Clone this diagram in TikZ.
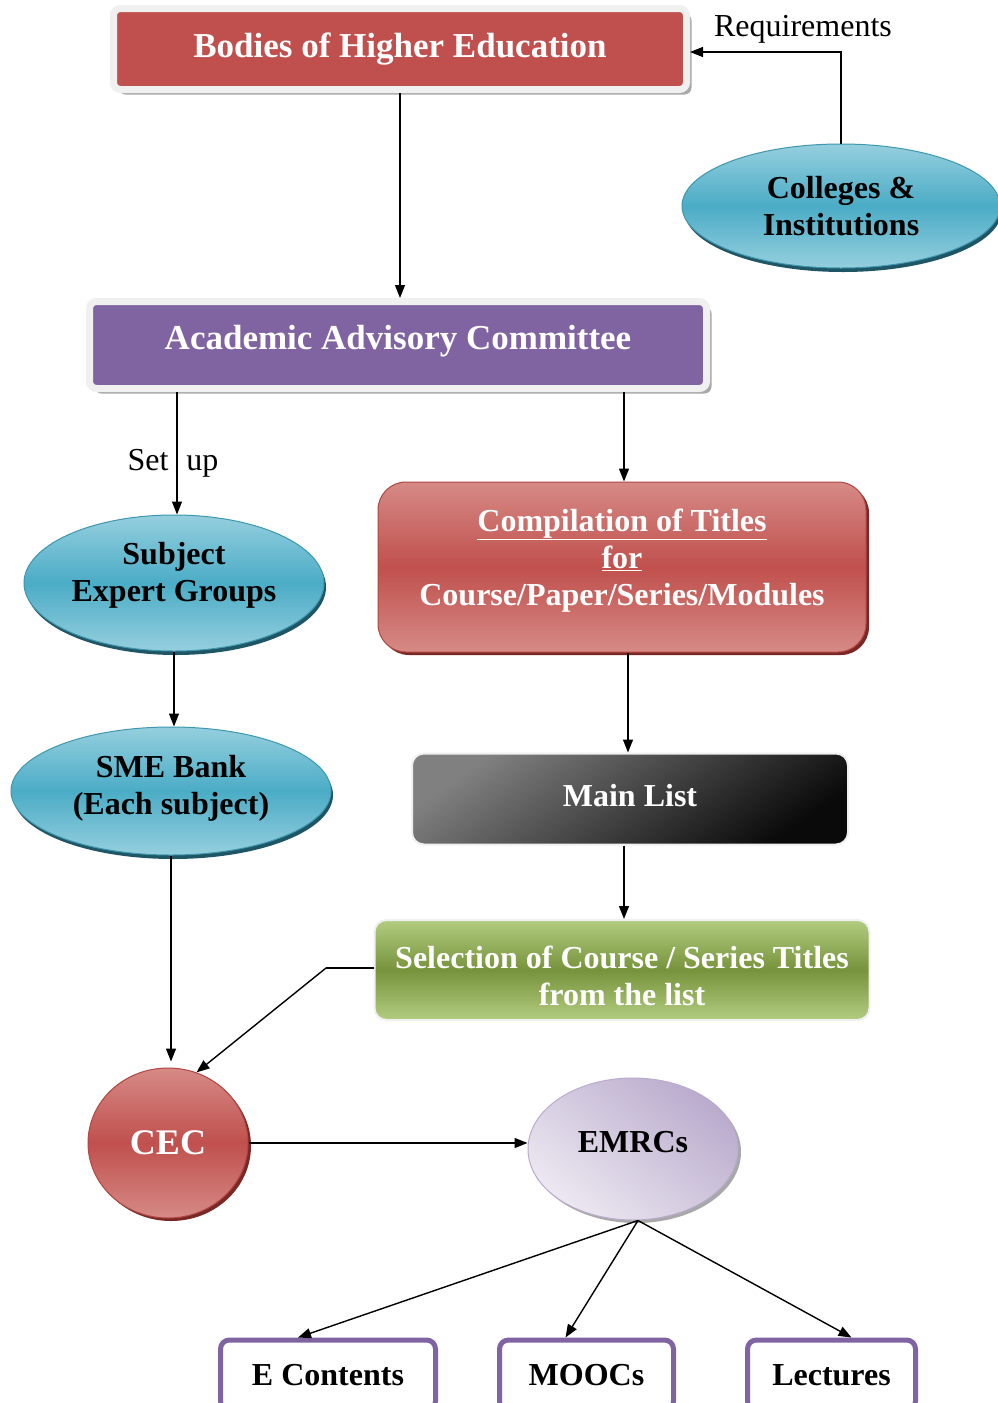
\documentclass[tikz,border=0pt]{standalone}
\usepackage{fontspec}
\setmainfont{Liberation Serif}
\usetikzlibrary{shapes.geometric,shadows,arrows.meta,calc}

\definecolor{redM}{HTML}{C0504D}
\definecolor{redL}{HTML}{D68A86}
\definecolor{redB}{HTML}{B04542}
\definecolor{redS}{HTML}{7A2826}
\definecolor{tealM}{HTML}{4BACC6}
\definecolor{tealL}{HTML}{95CFDE}
\definecolor{tealB}{HTML}{3E97AF}
\definecolor{tealS}{HTML}{1F5665}
\definecolor{purM}{HTML}{8064A2}
\definecolor{frameG}{HTML}{F0F0F0}
\definecolor{shadG}{HTML}{A8A8A8}
\definecolor{greenM}{HTML}{77933C}
\definecolor{greenL}{HTML}{B2CD80}
\definecolor{mlTop}{HTML}{808080}
\definecolor{mlBot}{HTML}{0A0A0A}
\definecolor{lavL}{HTML}{ECE8F1}
\definecolor{lavD}{HTML}{BAABCD}

\tikzset{
  arr/.style={-{Triangle[length=13pt,width=10pt]}, line width=1.4pt},
  plain/.style={line width=1.4pt},
  titlebox/.style={rectangle, rounded corners=7pt, draw=frameG, line width=7pt,
    text=white, font=\fontsize{35}{40}\selectfont\bfseries, inner sep=0pt,
    drop shadow={shadow xshift=5pt, shadow yshift=-5pt, fill=shadG, opacity=1}},
  tealoval/.style={ellipse, inner sep=0pt, align=center, draw=tealB, line width=1pt,
    top color=tealL, bottom color=tealL, middle color=tealM,
    font=\fontsize{32}{37}\selectfont\bfseries,
    drop shadow={shadow xshift=2pt, shadow yshift=-4pt, fill=tealS, opacity=1}},
  redgrad/.style={top color=redL, bottom color=redL, middle color=redM,
    draw=redB, line width=1pt, text=white,
    drop shadow={shadow xshift=3pt, shadow yshift=-3pt, fill=redS, opacity=1}},
  flatbox/.style={rectangle, rounded corners=12pt, inner sep=0pt, align=center,
    draw=frameG, line width=2pt, text=white,
    font=\fontsize{32}{37}\selectfont\bfseries},
  outbox/.style={rectangle, rounded corners=9pt, draw=purM, line width=5pt, fill=white,
    inner sep=0pt, minimum height=70pt, font=\fontsize{32}{37}\selectfont\bfseries},
  plaintext/.style={inner sep=0pt, font=\fontsize{32}{37}\selectfont},
}

\begin{document}
\begin{tikzpicture}[x=1pt, y=-1pt]
\useasboundingbox (0,0) rectangle (998,1403);
\fill[white] (0,0) rectangle (998,1403);
\clip (0,0) rectangle (998,1403);

% --- upper part: governing bodies and advisory committee
\node[titlebox, fill=redM, minimum width=573pt, minimum height=81pt] (bodies) at (400,49)
  {Bodies of Higher Education};
\node[tealoval, minimum width=318pt, minimum height=124pt] (coll) at (841,206)
  {Colleges \&\\Institutions};
\node[plaintext] (req) at (803,29) {Requirements};
\node[titlebox, fill=purM, minimum width=617pt, minimum height=87pt] (acad) at (398,345)
  {Academic Advisory Committee\rule[-15pt]{0pt}{0pt}};

% --- left branch: subject experts
\node[tealoval, minimum width=300pt, minimum height=136pt] (subj) at (174,583)
  {Subject\\Expert Groups\rule[-22pt]{0pt}{0pt}};
\node[tealoval, minimum width=320pt, minimum height=128pt] (sme) at (171,791)
  {SME Bank\\(Each subject)\rule[-12pt]{0pt}{0pt}};

% --- right branch: titles
\node[rectangle, rounded corners=28pt, redgrad, inner sep=0pt, align=center,
  minimum width=488pt, minimum height=170pt,
  font=\fontsize{32}{37}\selectfont\bfseries] (comp) at (622,567)
  {\underline{Compilation of Titles}\\\underline{for}\\Course/Paper/Series/Modules\rule[-20pt]{0pt}{0pt}};
\node[flatbox, top color=mlTop, bottom color=mlBot, shading angle=35,
  minimum width=436pt, minimum height=91pt] (mlist) at (630,799)
  {Main List\rule[-8pt]{0pt}{0pt}};
\node[flatbox, top color=greenL, bottom color=greenL, middle color=greenM,
  minimum width=495pt, minimum height=100pt] (sel) at (622,970)
  {\rule{0pt}{34pt}Selection of Course / Series Titles\\from the list};

% --- centres and outputs
\node[ellipse, redgrad, inner sep=0pt, minimum width=160pt, minimum height=150pt,
  font=\fontsize{36}{40}\selectfont\bfseries] (cec) at (168,1143) {CEC};
\node[ellipse, inner sep=0pt, minimum width=210pt, minimum height=142pt,
  top color=lavD, bottom color=lavL, shading angle=-40, draw=lavD, line width=1pt,
  font=\fontsize{32}{37}\selectfont\bfseries,
  drop shadow={shadow xshift=3pt, shadow yshift=-3pt, fill=shadG, opacity=1}] (emrc) at (633,1149)
  {EMRCs\rule[-14pt]{0pt}{0pt}};

\node[outbox, minimum width=215pt] (econt) at (328,1375) {E Contents};
\node[outbox, minimum width=174pt] (moocs) at (586.5,1375) {MOOCs};
\node[outbox, minimum width=168pt] (lect) at (831.5,1375) {Lectures};

% --- connectors
\draw[arr] (coll.north) |- ([yshift=-3pt]bodies.east);
\draw[arr] (bodies.south) -- (bodies.south |- acad.north);
\draw[arr] ([xshift=3pt]acad.south -| subj.north) -- node[plaintext, pos=0.58, xshift=-4pt]
  {Set\hspace{18pt}up} ([xshift=3pt]subj.north);
\draw[arr] (acad.south -| 624,0) -- (624,0 |- comp.north);
\draw[arr] (subj.south) -- (subj.south |- sme.north);
\draw[arr, shorten >=6pt] (sme.south) -- (sme.south |- cec.north);
\draw[arr] (comp.south -| 628,0) -- (628,0 |- mlist.north);
\draw[arr] (mlist.south -| 624,0) -- (624,0 |- sel.north);
\coordinate (bend) at (326,968);
\draw[plain] (sel.west |- bend) -- (bend);
\draw[arr] (bend) -- (cec.68);
\draw[arr] (cec.east) -- (cec.east -| emrc.west);
\draw[arr] ([xshift=5pt]emrc.south) -- ([xshift=-30pt]econt.north);
\draw[arr] ([xshift=5pt]emrc.south) -- ([xshift=-21pt]moocs.north);
\draw[arr] ([xshift=5pt]emrc.south) -- ([xshift=20pt]lect.north);
\end{tikzpicture}
\end{document}
